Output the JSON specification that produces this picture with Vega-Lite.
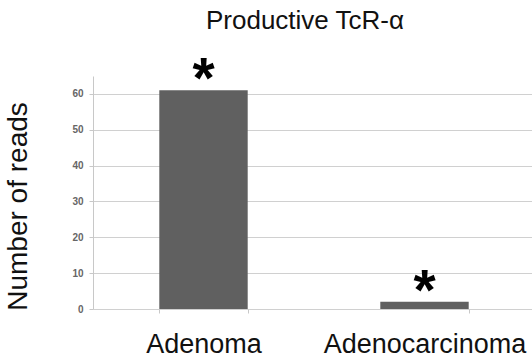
{
  "$schema": "https://vega.github.io/schema/vega-lite/v6.json",
  "autosize": {"type": "none"},
  "padding": {"left": 93, "top": 76, "right": 0, "bottom": 53},
  "width": 442,
  "height": 233,
  "background": "white",
  "title": {
    "text": "Productive TcR-α",
    "font": "Liberation Sans",
    "fontSize": 26,
    "fontWeight": "normal",
    "color": "#111111",
    "anchor": "middle",
    "offset": 18,
    "dx": -9
  },
  "config": {"view": {"stroke": null}},
  "data": {
    "values": [
      {"group": "Adenoma", "reads": 61, "mark": "*"},
      {"group": "Adenocarcinoma", "reads": 2, "mark": "*"}
    ]
  },
  "encoding": {
    "x": {
      "field": "group",
      "type": "nominal",
      "sort": null,
      "scale": {"paddingInner": 0.6, "paddingOuter": 0.3},
      "axis": {
        "title": null,
        "labelAngle": 0,
        "labelLimit": 0,
        "labelFont": "Liberation Sans",
        "labelFontSize": 27,
        "labelColor": "#111111",
        "labelBaseline": "alphabetic",
        "labelPadding": 39,
        "tickBand": "extent",
        "tickSize": 4,
        "tickColor": "#c8c8c8",
        "domain": false,
        "grid": false
      }
    },
    "y": {
      "field": "reads",
      "type": "quantitative",
      "scale": {"domain": [0, 65], "nice": false},
      "axis": {
        "values": [0, 10, 20, 30, 40, 50, 60],
        "title": "Number of reads",
        "titleFont": "Liberation Sans",
        "titleFontSize": 28,
        "titleFontWeight": "normal",
        "titleColor": "#111111",
        "titleAngle": 270,
        "titleAlign": "center",
        "titleBaseline": "middle",
        "titleX": -75,
        "titleY": 130,
        "labelFont": "Liberation Sans",
        "labelFontSize": 10,
        "labelFontWeight": "bold",
        "labelColor": "#666666",
        "labelPadding": 6,
        "tickSize": 4,
        "tickColor": "#c8c8c8",
        "domainColor": "#c8c8c8",
        "gridColor": "#d0d0d0",
        "grid": true
      }
    }
  },
  "layer": [
    {
      "mark": {"type": "bar", "color": "#606060"}
    },
    {
      "mark": {
        "type": "text",
        "font": "Liberation Sans",
        "fontSize": 57,
        "fontWeight": "bold",
        "color": "#000000",
        "baseline": "alphabetic",
        "align": "center",
        "dy": 8
      },
      "encoding": {"text": {"field": "mark"}}
    }
  ]
}
